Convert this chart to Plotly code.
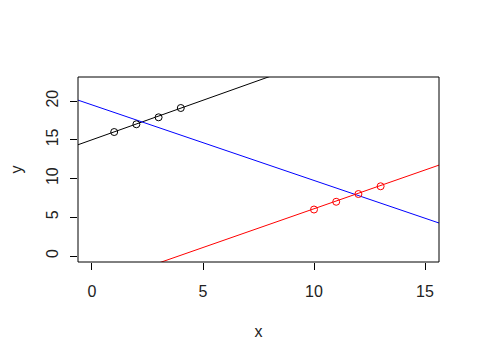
import plotly.graph_objects as go

# data
black_x = [1, 2, 3, 4]
black_y = [16, 17, 17.9, 19.1]
red_x = [10, 11, 12, 13]
red_y = [6, 7, 8, 9]
# lines: (intercept, slope, colour)
lines = [(15.0, 1.02, "black"), (19.5, -0.975, "blue"), (-3.9, 1.0, "red")]
x_range = [-0.63, 15.63]
y_range = [-0.77, 23.1]
x_ticks = [0, 5, 10, 15]
y_ticks = [0, 5, 10, 15, 20]

fig = go.Figure()
for a, b, c in lines:
    xs = x_range
    ys = [a + b * v for v in xs]
    fig.add_trace(go.Scatter(x=xs, y=ys, mode="lines",
                             line=dict(color=c, width=1), showlegend=False))
fig.add_trace(go.Scatter(x=black_x, y=black_y, mode="markers",
                         marker=dict(symbol="circle-open", size=7, color="black",
                                     line=dict(width=1)), showlegend=False))
fig.add_trace(go.Scatter(x=red_x, y=red_y, mode="markers",
                         marker=dict(symbol="circle-open", size=7, color="red",
                                     line=dict(width=1)), showlegend=False))

font = dict(family="Liberation Sans, Arial", size=16, color="#222222")
fig.update_layout(
    width=480, height=360,
    margin=dict(l=70, r=49, t=69, b=106),
    paper_bgcolor="white", plot_bgcolor="white",
    font=font,
    xaxis=dict(range=x_range, tickvals=x_ticks, ticks="outside", ticklen=7,
               tickcolor="black", showgrid=False, zeroline=False, showline=False,
               ticklabelstandoff=8, automargin=False,
               title=dict(text="x", standoff=26, font=font)),
    yaxis=dict(range=y_range, tickvals=y_ticks, ticks="outside", ticklen=7,
               tickcolor="black", showgrid=False, zeroline=False, showline=False,
               tickangle=-90, ticklabelstandoff=6, automargin=False,
               title=dict(text="y", standoff=29, font=font)),
    shapes=[dict(type="rect", xref="paper", yref="paper", x0=0, x1=1, y0=0, y1=1,
                 line=dict(color="black", width=1))],
)
fig.write_html("out.html")
